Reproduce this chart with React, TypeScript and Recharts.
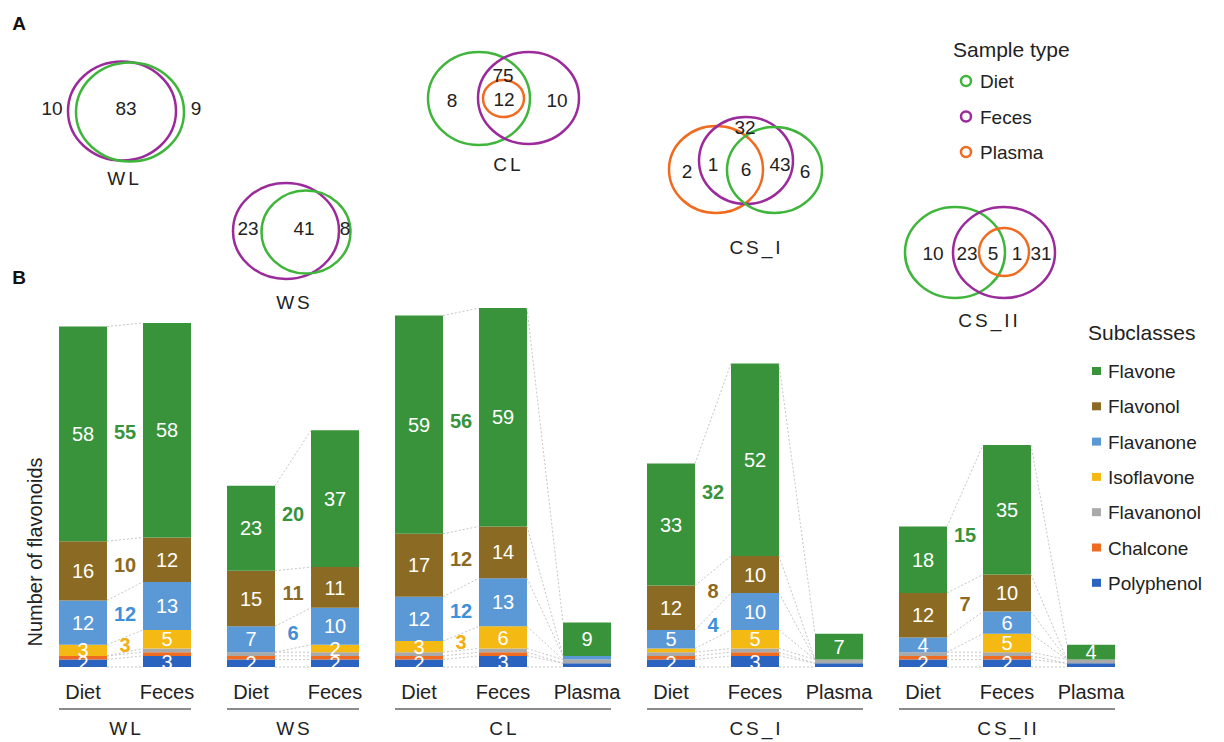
import React from 'react'
import { ComposedChart, Bar, XAxis, YAxis, ReferenceLine, ReferenceDot, LabelList, Legend } from 'recharts'

const FONT = '"Liberation Sans", Arial, sans-serif'

// bars, left to right
const barIndex = [0, 1, 2, 3, 4, 5, 6, 7, 8, 9, 10, 11, 12]
const barSample = ['Diet', 'Feces', 'Diet', 'Feces', 'Diet', 'Feces', 'Plasma', 'Diet', 'Feces', 'Plasma', 'Diet', 'Feces', 'Plasma']
const groupNames = ['WL', 'WS', 'CL', 'CS_I', 'CS_II']
const groupBars = [[0, 1], [2, 3], [4, 5, 6], [7, 8, 9], [10, 11, 12]]

// subclass counts per bar
const flavone = [58, 58, 23, 37, 59, 59, 9, 33, 52, 7, 18, 35, 4]
const flavonol = [16, 12, 15, 11, 17, 14, 0, 12, 10, 0, 12, 10, 0]
const flavanone = [12, 13, 7, 10, 12, 13, 1, 5, 10, 0, 4, 6, 0]
const isoflavone = [3, 5, 0, 2, 3, 6, 0, 1, 5, 0, 0, 5, 0]
const flavanonol = [0, 1, 1, 1, 1, 1, 1, 1, 1, 1, 1, 1, 1]
const chalcone = [1, 1, 1, 1, 1, 1, 0, 1, 1, 0, 1, 1, 0]
const polyphenol = [2, 3, 2, 2, 2, 3, 1, 2, 3, 1, 2, 2, 1]

// shared between Diet and Feces, per group
const sharedFlavone = [55, 20, 56, 32, 15]
const sharedFlavonol = [10, 11, 12, 8, 7]
const sharedFlavanone = [12, 6, 12, 4, null]
const sharedIsoflavone = [3, null, 3, null, null]

// stack order bottom -> top
const subclassNames = ['Polyphenol', 'Chalcone', 'Flavanonol', 'Isoflavone', 'Flavanone', 'Flavonol', 'Flavone']
const subclassValues = [polyphenol, chalcone, flavanonol, isoflavone, flavanone, flavonol, flavone]
const subclassColors = ['#2b63c1', '#ee6b21', '#a9a9a9', '#f5b914', '#5a99d6', '#8b6a23', '#38933b']
const sharedColors: Record<string, string> = {
  Flavone: '#38933b',
  Flavonol: '#8b6a23',
  Flavanone: '#3f8fd8',
  Isoflavone: '#f2ae12',
}
const sharedByName: Record<string, (number | null)[]> = {
  Flavone: sharedFlavone,
  Flavonol: sharedFlavonol,
  Flavanone: sharedFlavanone,
  Isoflavone: sharedIsoflavone,
}

// venn diagrams
const sampleTypes = ['Diet', 'Feces', 'Plasma']
const sampleColors = ['#3fb53b', '#9b2b9b', '#f06b1f']
const vennWL = [10, 83, 9]
const vennWS = [23, 41, 8]
const vennCL = [8, 75, 12, 10]
const vennCSI = [32, 2, 1, 6, 43, 6]
const vennCSII = [10, 23, 5, 1, 31]

const data = barIndex.map((x, i) => {
  const row: Record<string, number | string> = { x, sample: barSample[i] }
  subclassNames.forEach((n, s) => (row[n] = subclassValues[s][i]))
  return row
})

const cum = (i: number, k: number) => {
  let t = 0
  for (let s = 0; s < k; s++) t += subclassValues[s][i]
  return t
}

const W = 1224
const H = 742
const M = { top: 297, right: 91, bottom: 0, left: 41 }
const PX = (W - M.left - M.right) / 13
const BAR = 48
const HALF = BAR / 2 / PX
const YMAX = 100
const PXY = (H - M.top - 75) / YMAX

const connectors: { x1: number; y1: number; x2: number; y2: number }[] = []
groupBars.forEach((bars) => {
  for (let j = 0; j < bars.length - 1; j++) {
    const a = bars[j]
    const b = bars[j + 1]
    for (let k = 0; k <= subclassNames.length; k++) {
      connectors.push({ x1: a + HALF, y1: cum(a, k), x2: b - HALF, y2: cum(b, k) })
    }
  }
})

const sharedLabels: { x: number; y: number; v: number; c: string }[] = []
groupBars.forEach((bars, g) => {
  const d = bars[0]
  const f = bars[1]
  subclassNames.forEach((n, s) => {
    const arr = sharedByName[n]
    if (!arr || arr[g] == null) return
    const m1 = cum(d, s) + subclassValues[s][d] / 2
    const m2 = cum(f, s) + subclassValues[s][f] / 2
    sharedLabels.push({ x: (d + f) / 2, y: (m1 + m2) / 2, v: arr[g] as number, c: sharedColors[n] })
  })
})

const groupCenters = groupBars.map((b) => (b[0] + b[b.length - 1]) / 2)

const SampleTick = (props: any) => {
  const { x, y, payload } = props
  return (
    <text x={x} y={y + 32} textAnchor="middle" fontSize={20} fill="#222" fontFamily={FONT}>
      {barSample[payload.value]}
    </text>
  )
}

const GroupTick = (props: any) => {
  const { x, y, payload } = props
  const g = groupCenters.indexOf(payload.value)
  return (
    <text x={x + 1.5} y={y + 28} textAnchor="middle" fontSize={19} letterSpacing={3} fill="#222" fontFamily={FONT}>
      {groupNames[g]}
    </text>
  )
}

const SubclassLegend = () => (
  <svg width={144} height={300} style={{ fontFamily: FONT }}>
    <text x={8} y={27} fontSize={21} fill="#222">Subclasses</text>
    {[...subclassNames].reverse().map((n, i) => {
      const c = subclassColors[subclassNames.length - 1 - i]
      const cy = 58 + i * 35.3
      return (
        <g key={n}>
          <rect x={12} y={cy - 4} width={9} height={8} fill={c} />
          <text x={28} y={cy + 7} fontSize={19} fill="#222">{n}</text>
        </g>
      )
    })}
  </svg>
)

type Ell = [number, number, number, number, number] // cx, cy, rx, ry, sample
const vennShapes: { ell: Ell[]; nums: number[]; pos: [number, number][]; title: string; tpos: [number, number] }[] = [
  {
    ell: [[122, 111, 54, 49.5, 1], [130, 112, 54, 49.5, 0]],
    nums: vennWL,
    pos: [[52, 108], [126, 108], [196, 108]],
    title: 'WL',
    tpos: [123, 178],
  },
  {
    ell: [[286, 231, 53, 48, 1], [306, 232, 44.5, 41.5, 0]],
    nums: vennWS,
    pos: [[248, 228], [304, 228], [345, 228]],
    title: 'WS',
    tpos: [293, 302],
  },
  {
    ell: [[479, 98.5, 51, 46.5, 0], [528.5, 98, 50.5, 46, 1], [503.5, 98.5, 20.5, 18.5, 2]],
    nums: vennCL,
    pos: [[452, 100], [503, 75], [504, 99], [557, 100]],
    title: 'CL',
    tpos: [507, 164],
  },
  {
    ell: [[716, 169.5, 47, 43.5, 2], [746, 160.5, 47, 43.5, 1], [774.5, 170, 47.5, 43, 0]],
    nums: vennCSI,
    pos: [[745, 127], [687, 171], [713, 164], [746, 169], [780, 164], [805, 171]],
    title: 'CS_I',
    tpos: [755, 247],
  },
  {
    ell: [[955, 252.5, 50, 45.5, 0], [1004, 252.5, 51, 45.5, 1], [1004, 252, 25, 24, 2]],
    nums: vennCSII,
    pos: [[933, 253], [967, 253], [993, 253], [1017, 253], [1041, 253]],
    title: 'CS_II',
    tpos: [988, 320],
  },
]

const Overlay = () => (
  <svg width={W} height={H} style={{ position: 'absolute', left: 0, top: 0, pointerEvents: 'none', fontFamily: FONT }}>
    <text x={19} y={23} fontSize={19} fontWeight="bold" fill="#111" textAnchor="middle" dominantBaseline="central">A</text>
    <text x={19} y={277} fontSize={19} fontWeight="bold" fill="#111" textAnchor="middle" dominantBaseline="central">B</text>
    {vennShapes.map((v) => (
      <g key={v.title}>
        {v.ell.map((e, i) => (
          <ellipse key={i} cx={e[0]} cy={e[1]} rx={e[2]} ry={e[3]} fill="none" stroke={sampleColors[e[4]]} strokeWidth={2.5} />
        ))}
        {v.nums.map((n, i) => (
          <text key={i} x={v.pos[i][0]} y={v.pos[i][1] + 7} fontSize={19} fill="#222" textAnchor="middle">{n}</text>
        ))}
        <text x={v.tpos[0] + 1.5} y={v.tpos[1] + 7} fontSize={19} letterSpacing={3} fill="#222" textAnchor="middle">{v.title}</text>
      </g>
    ))}
    <text x={953} y={57} fontSize={21} fill="#222">Sample type</text>
    {sampleTypes.map((s, i) => (
      <g key={s}>
        <circle cx={966} cy={81 + i * 35.5} r={5} fill="none" stroke={sampleColors[i]} strokeWidth={2.5} />
        <text x={980} y={81 + i * 35.5 + 7} fontSize={19} fill="#222">{s}</text>
      </g>
    ))}
    <text x={0} y={0} transform="translate(42,552) rotate(-90)" fontSize={20} fill="#222" textAnchor="middle">Number of flavonoids</text>
  </svg>
)

export default function App() {
  return (
    <div style={{ position: 'relative', width: W, height: H, background: '#fff', fontFamily: FONT }}>
      <style>{'body{margin:0}'}</style>
      <ComposedChart width={W} height={H} data={data} margin={M} style={{ position: 'absolute', left: 0, top: 0 }}>
        <XAxis
          dataKey="x"
          type="number"
          domain={[-0.5, 12.5]}
          ticks={barIndex}
          interval={0}
          axisLine={false}
          tickLine={false}
          tickSize={0}
          tickMargin={0}
          height={40}
          tick={<SampleTick />}
        />
        <XAxis
          xAxisId="grp"
          dataKey="x"
          type="number"
          domain={[-0.5, 12.5]}
          ticks={groupCenters}
          interval={0}
          axisLine={false}
          tickLine={false}
          tickSize={0}
          tickMargin={0}
          height={35}
          tick={<GroupTick />}
        />
        <YAxis hide domain={[0, YMAX]} />
        <Legend layout="vertical" align="center" verticalAlign="middle" content={<SubclassLegend />} wrapperStyle={{ left: 1080, top: 313, width: 144 }} />
        {connectors.map((c, i) => (
          <ReferenceLine
            key={'c' + i}
            segment={[{ x: c.x1, y: c.y1 }, { x: c.x2, y: c.y2 }]}
            stroke="#c6c6c6"
            strokeWidth={1}
            strokeDasharray="2 2"
            ifOverflow="visible"
          />
        ))}
        {groupBars.map((b, g) => (
          <ReferenceLine
            key={'g' + g}
            segment={[{ x: b[0] - HALF, y: -42 / PXY }, { x: b[b.length - 1] + HALF, y: -42 / PXY }]}
            stroke="#8c8c8c"
            strokeWidth={2}
            ifOverflow="visible"
          />
        ))}
        {subclassNames.map((n, s) => (
          <Bar key={n} dataKey={n} stackId="a" fill={subclassColors[s]} barSize={BAR} isAnimationActive={false}>
            <LabelList
              dataKey={n}
              position="center"
              fill="#fff"
              fontSize={20}
              fontFamily={FONT}
              formatter={(v: any) => (Number(v) >= 2 ? v : '')}
            />
          </Bar>
        ))}
        {sharedLabels.map((l, i) => (
          <ReferenceDot
            key={'s' + i}
            x={l.x}
            y={l.y}
            r={0}
            fill="none"
            stroke="none"
            label={{ value: l.v, position: 'center', fill: l.c, fontSize: 20, fontWeight: 'bold', fontFamily: FONT }}
          />
        ))}
      </ComposedChart>
      <Overlay />
    </div>
  )
}
